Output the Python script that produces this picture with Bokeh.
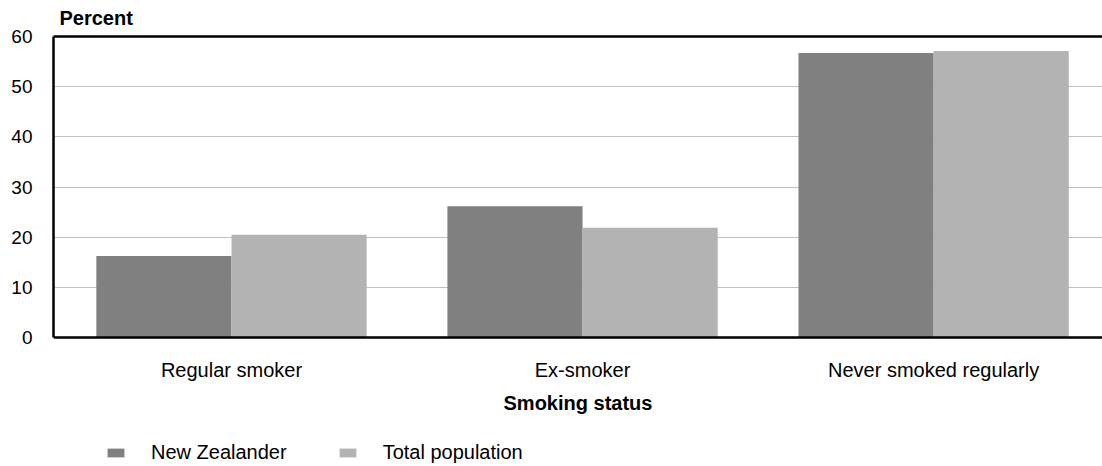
from bokeh.plotting import figure
from bokeh.models import (ColumnDataSource, Range1d, FixedTicker, LinearAxis,
                          Legend, LegendItem)
from bokeh.transform import dodge
from bokeh.embed import file_html
from bokeh.resources import INLINE

categories = ["Regular smoker", "Ex-smoker", "Never smoked regularly"]
new_zealander = [16.3, 26.2, 56.7]
total_population = [20.5, 21.9, 57.1]
series_names = ["New Zealander", "Total population"]
y_ticks = [0, 10, 20, 30, 40, 50, 60]

FONT = "Liberation Sans"
C_NZ = "#808080"
C_TOT = "#b3b3b3"

idx = list(range(len(categories)))
src = ColumnDataSource(dict(x=idx, nz=new_zealander, tot=total_population))

# frame runs to the bottom of the figure; the category axis sits at y = 0
p = figure(width=1102, height=466, output_backend="svg", toolbar_location=None,
           x_range=Range1d(-0.507, 2.481), y_range=Range1d(-25.63, 60),
           min_border_left=53, min_border_right=0, min_border_top=35,
           min_border_bottom=0)
p.outline_line_color = None
p.background_fill_color = "white"
p.border_fill_color = "white"

bw = 0.385
r1 = p.vbar(x=dodge("x", -0.1925, range=p.x_range), top="nz", width=bw,
            source=src, fill_color=C_NZ, line_color=None)
r2 = p.vbar(x=dodge("x", 0.1925, range=p.x_range), top="tot", width=bw,
            source=src, fill_color=C_TOT, line_color=None)

# Title
p.title.text = "Percent"
p.title.text_font = FONT
p.title.text_font_size = "20px"
p.title.text_font_style = "bold"
p.title.text_color = "black"
p.title.align = "left"
p.title.vertical_align = "top"
p.title.offset = 6
p.title.standoff = 12

# Grid
p.xgrid.visible = False
p.ygrid.ticker = FixedTicker(ticks=y_ticks)
p.ygrid.grid_line_color = "#c0c0c0"
p.ygrid.grid_line_width = 1

# Y axis
ya = p.yaxis[0]
ya.ticker = FixedTicker(ticks=y_ticks)
ya.bounds = (0, 60)
ya.major_tick_out = 0
ya.major_tick_in = 0
ya.minor_tick_out = 0
ya.minor_tick_in = 0
ya.axis_line_color = "black"
ya.axis_line_width = 2.5
ya.major_label_text_font = FONT
ya.major_label_text_font_size = "19px"
ya.major_label_text_color = "black"
ya.major_label_standoff = 21

# X axis (fixed at y = 0)
xa = p.xaxis[0]
xa.fixed_location = 0
xa.ticker = FixedTicker(ticks=idx)
xa.major_label_overrides = {i: c for i, c in zip(idx, categories)}
xa.major_tick_out = 0
xa.major_tick_in = 0
xa.minor_tick_out = 0
xa.minor_tick_in = 0
xa.axis_line_color = "black"
xa.axis_line_width = 2.5
xa.major_label_text_font = FONT
xa.major_label_text_font_size = "20px"
xa.major_label_text_color = "black"
xa.major_label_standoff = 21
xa.axis_label = "Smoking status"
xa.axis_label_text_font = FONT
xa.axis_label_text_font_size = "20px"
xa.axis_label_text_font_style = "bold"
xa.axis_label_text_color = "black"
xa.axis_label_standoff = 8

# Top border line as an axis
top = LinearAxis(ticker=FixedTicker(ticks=[]), major_label_text_font_size="0px",
                 major_tick_out=0, major_tick_in=0, minor_tick_out=0,
                 minor_tick_in=0, major_label_standoff=0,
                 axis_line_color="black", axis_line_width=2.5)
p.add_layout(top, "above")

legend = Legend(items=[LegendItem(label=series_names[0], renderers=[r1]),
                       LegendItem(label=series_names[1], renderers=[r2])],
                orientation="horizontal", location=(52, 2),
                margin=0, padding=0, border_line_color=None,
                background_fill_alpha=0,
                glyph_width=21, glyph_height=11, label_height=14,
                label_standoff=25, spacing=50,
                label_text_font=FONT, label_text_font_size="20px",
                label_text_color="black")
p.add_layout(legend, "center")

open("out.html", "w").write(file_html(p, INLINE))
